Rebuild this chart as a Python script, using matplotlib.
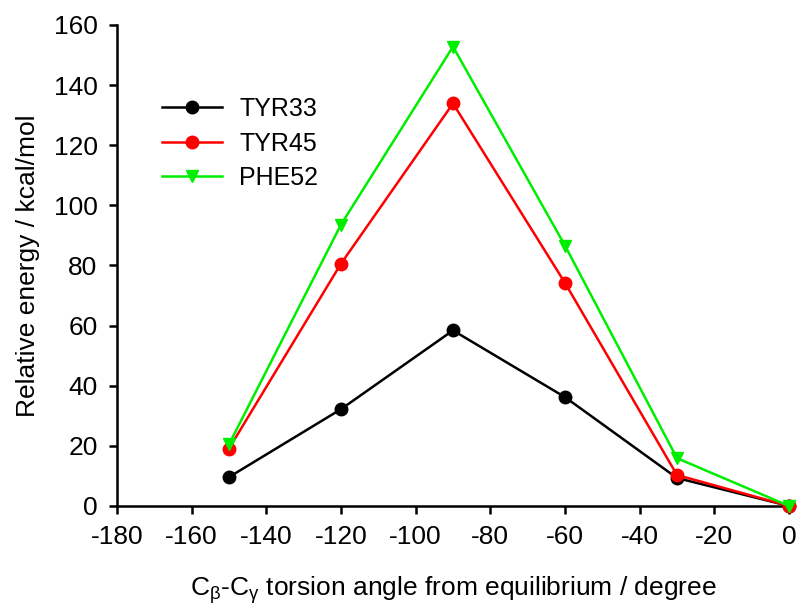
import matplotlib
matplotlib.use('Agg')
import matplotlib.pyplot as plt

plt.rcParams['font.family'] = ['Liberation Sans', 'DejaVu Sans']
plt.rcParams['mathtext.fontset'] = 'custom'
plt.rcParams['mathtext.rm'] = 'Liberation Sans'
plt.rcParams['mathtext.it'] = 'Liberation Sans'
plt.rcParams['axes.unicode_minus'] = False

angle = [-150, -120, -90, -60, -30, 0]
tyr33 = [9.6, 32.2, 58.4, 36.2, 9.3, 0]
tyr45 = [19.1, 80.6, 133.9, 74.2, 10.3, 0]
phe52 = [20.5, 93.6, 152.8, 86.6, 15.9, 0]

fig = plt.figure(figsize=(7.99, 6.08), dpi=100)
ax = fig.add_axes([0.1464, 0.1678, 0.8411, 0.7911])

ax.plot(angle, tyr33, color='black', marker='o', ms=9, lw=1.8, label='TYR33', clip_on=False, zorder=3)
ax.plot(angle, tyr45, color='red', marker='o', ms=9, lw=1.8, label='TYR45', clip_on=False, zorder=4)
ax.plot(angle, phe52, color='#00ee00', marker='v', ms=9, lw=1.8, label='PHE52', clip_on=False, zorder=5)

ax.set_xlim(-180, 0)
ax.set_ylim(0, 160)
ax.set_xticks(range(-180, 1, 20))
ax.set_yticks(range(0, 161, 20))
ax.spines['top'].set_visible(False)
ax.spines['right'].set_visible(False)
ax.spines['left'].set_linewidth(1.8)
ax.spines['bottom'].set_linewidth(1.8)
ax.tick_params(direction='out', length=6, width=1.8, labelsize=19, pad=8)

ax.set_xlabel(r'C$_\mathrm{β}$-C$_\mathrm{γ}$ torsion angle from equilibrium / degree', fontsize=19, labelpad=18)
ax.set_ylabel('Relative energy / kcal/mol', fontsize=19, labelpad=10)

ax.legend(loc='upper left', bbox_to_anchor=(0.033, 0.897), frameon=False, fontsize=18,
          handlelength=2.4, handletextpad=0.7, labelspacing=0.42)

fig.savefig('out.png', dpi=100)
